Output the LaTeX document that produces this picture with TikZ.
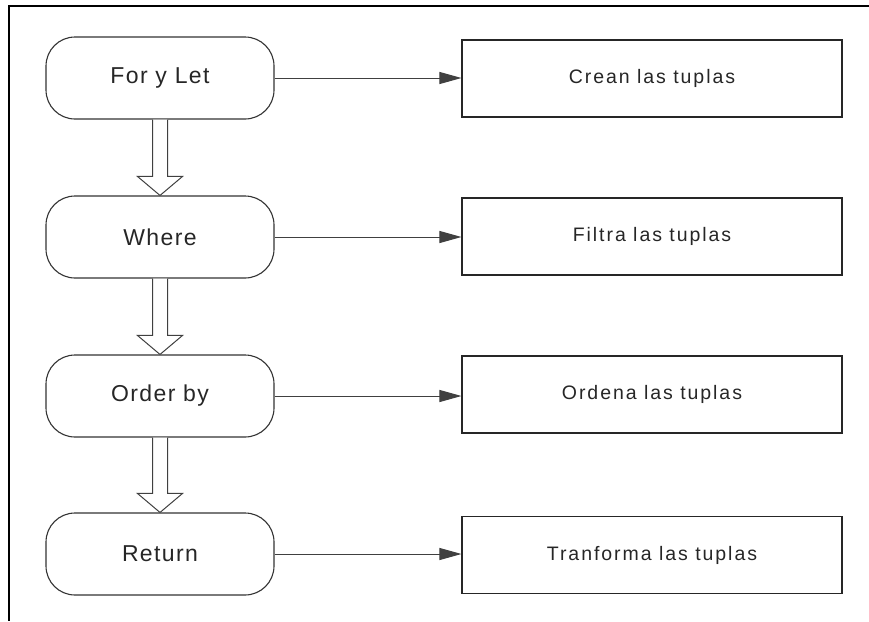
\documentclass[tikz,border=0pt]{standalone}
\usepackage{fontspec}
\setmainfont{Liberation Sans}
\usetikzlibrary{arrows.meta}

\tikzset{
  clausula/.style={draw=black!80, line width=1.1pt, rounded corners=29pt,
    minimum width=228pt, minimum height=82pt, inner sep=0pt, text=black!85,
    font=\fontsize{23}{27}\selectfont\addfontfeature{LetterSpace=6}},
  accion/.style={draw=black!85, line width=1.1pt,
    minimum width=380pt, minimum height=77pt, inner sep=0pt, text=black!85,
    font=\fontsize{19.5}{23}\selectfont\addfontfeature{LetterSpace=10}},
  flecha/.style={draw=black!75, line width=1pt, -{Triangle[length=22pt,width=12pt]}},
  hueca/.style={draw=black!75, line width=1pt, fill=white}
}

\begin{document}
\begin{tikzpicture}[x=1pt,y=-1pt]
        \useasboundingbox (0,0) rectangle (869,621);

        % Rahmen
        \draw[line width=1.3pt] (869,6) -- (9,6) -- (9,621);

        % Klauseln und Aktionen
        \foreach \i/\y/\dy/\clau/\acc in {1/78/78.5/For y Let/Crean las tuplas,
                                         2/237/236.5/Where/Filtra las tuplas,
                                         3/396/394.5/Order by/Ordena las tuplas,
                                         4/554/555/Return/Tranforma las tuplas} {
            \node[clausula] (q\i) at (160,\y) {\clau};
            \node[accion] (d\i) at (652,\dy) {\acc};
            \draw[flecha] (q\i.east) -- (d\i.west |- q\i.east); % Pfeil nach rechts
        }

        % Hohlpfeile
        \foreach \i/\j in {1/2,2/3,3/4} {
            \draw[hueca] ([xshift=-7.5pt]q\i.south) -- ([xshift=-7.5pt,yshift=19pt]q\j.north)
                -- ([xshift=-22.5pt,yshift=19pt]q\j.north) -- (q\j.north)
                -- ([xshift=22.5pt,yshift=19pt]q\j.north) -- ([xshift=7.5pt,yshift=19pt]q\j.north)
                -- ([xshift=7.5pt]q\i.south);
        }
    \end{tikzpicture}
\end{document}
